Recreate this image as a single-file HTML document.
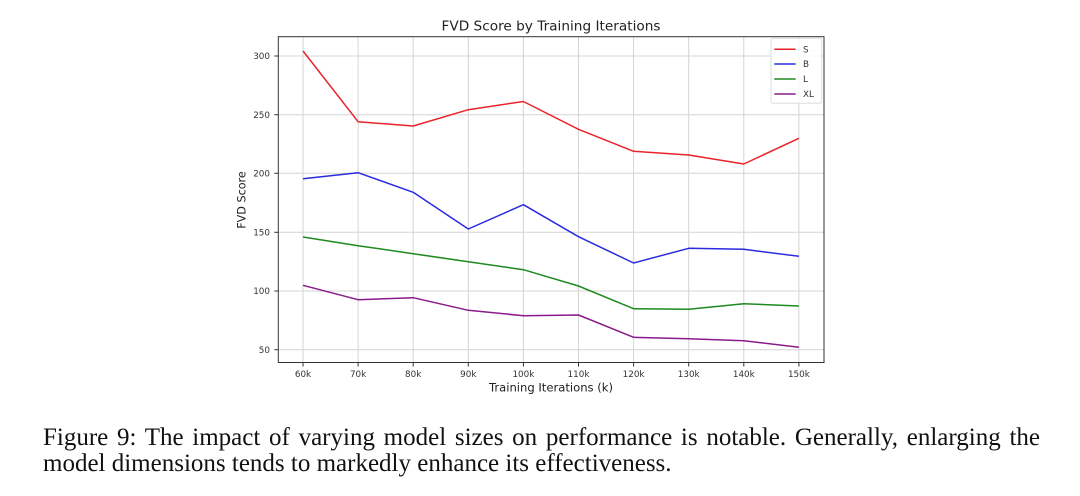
<!DOCTYPE html>
<html>
<head>
<meta charset="utf-8">
<style>
  html, body { margin: 0; padding: 0; background: #ffffff; }
  body { width: 1080px; height: 496px; position: relative; overflow: hidden; }
  svg { position: absolute; left: 0; top: 0; }
  .cap { position: absolute; font-family: "Liberation Serif", "Times New Roman", serif; font-size: 25px; line-height: 25px; color: #111; white-space: nowrap; }
  .l1 { left: 43px; top: 425px; width: 997px; text-align: justify; text-align-last: justify; white-space: normal; }
  .l2 { left: 43px; top: 450.5px; }
</style>
</head>
<body>
<svg width="1080" height="496" viewBox="0 0 1080 496" xmlns="http://www.w3.org/2000/svg">
  <g stroke="#d4d4d4" stroke-width="1">
    <line x1="303" y1="36.7" x2="303" y2="362.5"/>
    <line x1="358.1" y1="36.7" x2="358.1" y2="362.5"/>
    <line x1="413.2" y1="36.7" x2="413.2" y2="362.5"/>
    <line x1="468.3" y1="36.7" x2="468.3" y2="362.5"/>
    <line x1="523.4" y1="36.7" x2="523.4" y2="362.5"/>
    <line x1="578.5" y1="36.7" x2="578.5" y2="362.5"/>
    <line x1="633.6" y1="36.7" x2="633.6" y2="362.5"/>
    <line x1="688.7" y1="36.7" x2="688.7" y2="362.5"/>
    <line x1="743.8" y1="36.7" x2="743.8" y2="362.5"/>
    <line x1="798.9" y1="36.7" x2="798.9" y2="362.5"/>
    <line x1="278.3" y1="56" x2="824" y2="56"/>
    <line x1="278.3" y1="114.7" x2="824" y2="114.7"/>
    <line x1="278.3" y1="173.3" x2="824" y2="173.3"/>
    <line x1="278.3" y1="232.3" x2="824" y2="232.3"/>
    <line x1="278.3" y1="291" x2="824" y2="291"/>
    <line x1="278.3" y1="349.7" x2="824" y2="349.7"/>
  </g>
  <g fill="none" stroke-width="1.5" stroke-linejoin="round">
    <polyline stroke="#e8232a" points="303,51 358.1,121.7 413.2,126 468.3,109.7 523.4,101.5 578.5,129.3 633.6,151.3 688.7,155 743.8,164 798.9,138.3"/>
    <polyline stroke="#2a2ae0" points="303,178.7 358.1,172.7 413.2,192.3 468.3,229 523.4,204.7 578.5,236.7 633.6,263 688.7,248.3 743.8,249.3 798.9,256.3"/>
    <polyline stroke="#1f8a1f" points="303,237 358.1,245.7 413.2,253.7 468.3,261.7 523.4,269.7 578.5,286 633.6,308.7 688.7,309.3 743.8,303.7 798.9,306"/>
    <polyline stroke="#8a1a8a" points="303,285.3 358.1,299.7 413.2,297.7 468.3,310.3 523.4,315.7 578.5,315 633.6,337.3 688.7,338.7 743.8,340.7 798.9,347.3"/>
  </g>
  <rect x="278.3" y="36.7" width="545.7" height="325.8" fill="none" stroke="#333" stroke-width="1"/>
  <g stroke="#333" stroke-width="1">
    <line x1="303" y1="362.5" x2="303" y2="366.5"/>
    <line x1="358.1" y1="362.5" x2="358.1" y2="366.5"/>
    <line x1="413.2" y1="362.5" x2="413.2" y2="366.5"/>
    <line x1="468.3" y1="362.5" x2="468.3" y2="366.5"/>
    <line x1="523.4" y1="362.5" x2="523.4" y2="366.5"/>
    <line x1="578.5" y1="362.5" x2="578.5" y2="366.5"/>
    <line x1="633.6" y1="362.5" x2="633.6" y2="366.5"/>
    <line x1="688.7" y1="362.5" x2="688.7" y2="366.5"/>
    <line x1="743.8" y1="362.5" x2="743.8" y2="366.5"/>
    <line x1="798.9" y1="362.5" x2="798.9" y2="366.5"/>
    <line x1="274.3" y1="56" x2="278.3" y2="56"/>
    <line x1="274.3" y1="114.7" x2="278.3" y2="114.7"/>
    <line x1="274.3" y1="173.3" x2="278.3" y2="173.3"/>
    <line x1="274.3" y1="232.3" x2="278.3" y2="232.3"/>
    <line x1="274.3" y1="291" x2="278.3" y2="291"/>
    <line x1="274.3" y1="349.7" x2="278.3" y2="349.7"/>
  </g>
  <g font-family="DejaVu Sans, Liberation Sans, sans-serif" font-size="8.8" fill="#333" text-anchor="middle">
    <text x="303" y="377">60k</text>
    <text x="358.1" y="377">70k</text>
    <text x="413.2" y="377">80k</text>
    <text x="468.3" y="377">90k</text>
    <text x="523.4" y="377">100k</text>
    <text x="578.5" y="377">110k</text>
    <text x="633.6" y="377">120k</text>
    <text x="688.7" y="377">130k</text>
    <text x="743.8" y="377">140k</text>
    <text x="798.9" y="377">150k</text>
  </g>
  <g font-family="DejaVu Sans, Liberation Sans, sans-serif" font-size="8.8" fill="#333" text-anchor="end">
    <text x="270" y="59.2">300</text>
    <text x="270" y="117.9">250</text>
    <text x="270" y="176.5">200</text>
    <text x="270" y="235.5">150</text>
    <text x="270" y="294.2">100</text>
    <text x="270" y="352.9">50</text>
  </g>
  <text x="551" y="30.5" font-family="DejaVu Sans, Liberation Sans, sans-serif" font-size="13.5" fill="#222" text-anchor="middle" textLength="219" lengthAdjust="spacingAndGlyphs">FVD Score by Training Iterations</text>
  <text x="551" y="391.7" font-family="DejaVu Sans, Liberation Sans, sans-serif" font-size="11.4" fill="#222" text-anchor="middle" textLength="124" lengthAdjust="spacingAndGlyphs">Training Iterations (k)</text>
  <text transform="translate(245.5,200) rotate(-90)" font-family="DejaVu Sans, Liberation Sans, sans-serif" font-size="11.2" fill="#222" text-anchor="middle">FVD Score</text>
  <rect x="771" y="38.3" width="50.7" height="65" rx="2" fill="#ffffff" fill-opacity="0.85" stroke="#dddddd" stroke-width="1"/>
  <g stroke-width="1.5">
    <line x1="774.3" y1="49.3" x2="795.7" y2="49.3" stroke="#e8232a"/>
    <line x1="774.3" y1="64" x2="795.7" y2="64" stroke="#2a2ae0"/>
    <line x1="774.3" y1="79" x2="795.7" y2="79" stroke="#1f8a1f"/>
    <line x1="774.3" y1="94" x2="795.7" y2="94" stroke="#8a1a8a"/>
  </g>
  <g font-family="DejaVu Sans, Liberation Sans, sans-serif" font-size="8.8" fill="#333">
    <text x="803" y="52.5">S</text>
    <text x="803" y="67.2">B</text>
    <text x="803" y="82.2">L</text>
    <text x="803" y="97.2">XL</text>
  </g>
</svg>
<div class="cap l1">Figure 9: The impact of varying model sizes on performance is notable. Generally, enlarging the</div>
<div class="cap l2">model dimensions tends to markedly enhance its effectiveness.</div>
</body>
</html>
